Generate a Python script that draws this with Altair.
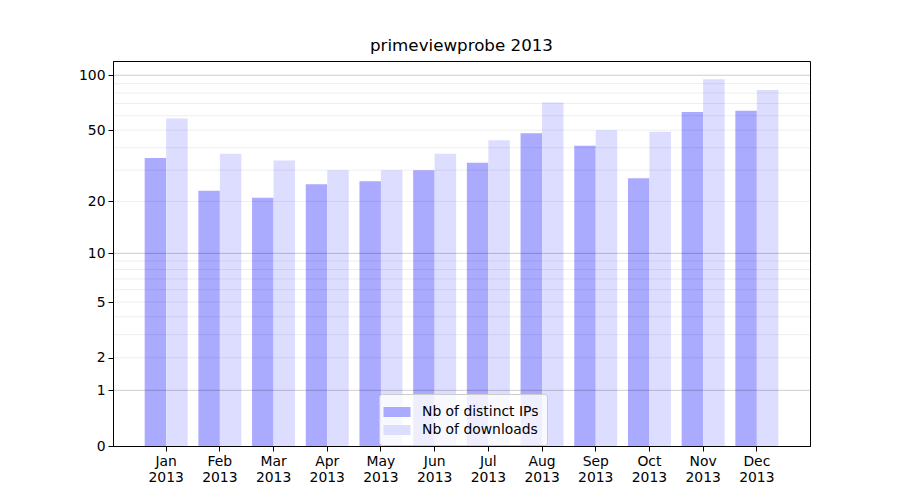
import altair as alt
import pandas as pd

months = ["Jan", "Feb", "Mar", "Apr", "May", "Jun", "Jul", "Aug", "Sep", "Oct", "Nov", "Dec"]
ips = [35, 23, 21, 25, 26, 30, 33, 48, 41, 27, 63, 64]
downloads = [58, 37, 34, 30, 30, 37, 44, 71, 50, 49, 95, 83]
series_names = ["Nb of distinct IPs", "Nb of downloads"]
series_colors = ["#aaaaff", "#ddddff"]
y_ticks = [0, 1, 2, 5, 10, 20, 50, 100]
major_grid = [1, 10, 100]
minor_grid = [2, 3, 4, 5, 6, 7, 8, 9, 20, 30, 40, 50, 60, 70, 80, 90]

rows = []
for m, a, b in zip(months, ips, downloads):
    rows.append({"month": m, "series": series_names[0], "value": a})
    rows.append({"month": m, "series": series_names[1], "value": b})
df = pd.DataFrame(rows)

yscale = alt.Scale(type="symlog", constant=1, domain=[0, 119.6], nice=False)
FONT = "DejaVu Sans"

bars = alt.Chart(df).mark_bar().encode(
    x=alt.X("month:N", sort=months,
            scale=alt.Scale(paddingInner=0.2, paddingOuter=0.59),
            axis=alt.Axis(title=None, labelAngle=0, labelExpr="[datum.value, '2013']",
                          labelFont=FONT, labelFontSize=13.9, labelColor="black",
                          labelLineHeight=16, labelPadding=3,
                          tickColor="black", tickSize=5, domainColor="black", grid=False)),
    xOffset=alt.XOffset("series:N", sort=series_names,
                        scale=alt.Scale(paddingInner=0, paddingOuter=0)),
    y=alt.Y("value:Q", scale=yscale,
            axis=alt.Axis(title=None, values=y_ticks, grid=False, labelFont=FONT,
                          labelFontSize=13.9, labelColor="black", tickColor="black",
                          tickSize=5, domainColor="black", labelPadding=3)),
    color=alt.Color("series:N", sort=series_names,
                    scale=alt.Scale(domain=series_names, range=series_colors),
                    legend=alt.Legend(title=None, orient="none", legendX=266, legendY=333,
                                      fillColor="rgba(255,255,255,0.8)", strokeColor="#cccccc",
                                      cornerRadius=3, padding=8,
                                      symbolType="M-1.35,-0.5H1.35V0.5H-1.35Z",
                                      symbolSize=400, symbolStrokeWidth=0, symbolOpacity=1,
                                      labelFont=FONT, labelFontSize=13.9, labelColor="black",
                                      labelOffset=15, rowPadding=1)),
)

minor = alt.Chart(pd.DataFrame({"v": minor_grid})).mark_rule(
    color="black", opacity=0.07, strokeWidth=1).encode(y=alt.Y("v:Q", scale=yscale))
major = alt.Chart(pd.DataFrame({"v": major_grid})).mark_rule(
    color="black", opacity=0.2, strokeWidth=1).encode(y=alt.Y("v:Q", scale=yscale))

chart = alt.layer(bars, minor, major).properties(
    width=697, height=385,
    title=alt.Title("primeviewprobe 2013", font=FONT, fontSize=16.7, fontWeight="normal",
                    color="black", offset=6),
    padding={"left": 70, "top": 30, "right": 5, "bottom": 5},
).configure_view(stroke="black", strokeWidth=1)

chart.save("out.html", embed_options={"renderer": "svg", "actions": False})
